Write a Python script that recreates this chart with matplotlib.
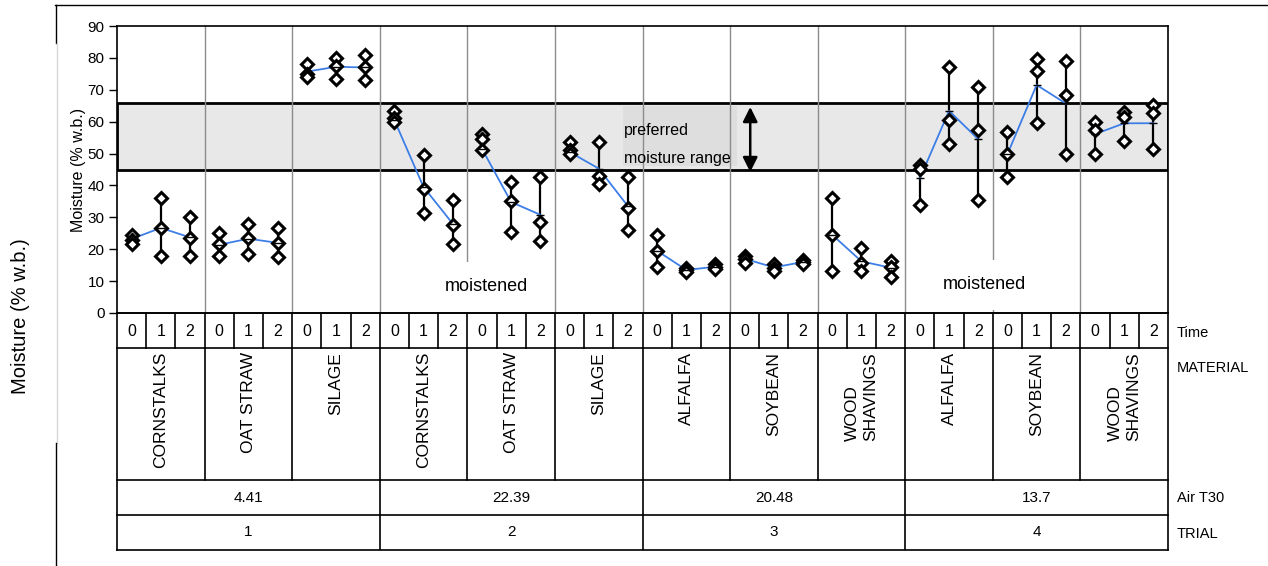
"""Variability chart: moisture content by trial, material and storage time."""

import matplotlib

matplotlib.use("Agg")
import matplotlib.pyplot as plt
from matplotlib.lines import Line2D
from matplotlib.patches import Rectangle

plt.rcParams["font.family"] = ["Liberation Sans", "DejaVu Sans"]

# ---- data ----------------------------------------------------------------
TIMES = ["0", "1", "2"]
MATERIALS = [
    "CORNSTALKS", "OAT STRAW", "SILAGE",
    "CORNSTALKS", "OAT STRAW", "SILAGE",
    "ALFALFA", "SOYBEAN", "WOOD\nSHAVINGS",
    "ALFALFA", "SOYBEAN", "WOOD\nSHAVINGS",
]
AIR_T30 = ["4.41", "22.39", "20.48", "13.7"]
TRIALS = ["1", "2", "3", "4"]

# three replicate readings per cell (high / middle / low), 36 cells
rep_high = [
    24.5, 36.0, 30.0, 25.0, 28.0, 26.5, 78.0, 80.0, 81.0,
    63.5, 49.5, 35.5, 56.0, 41.0, 42.5, 53.5, 53.5, 42.5,
    24.5, 14.0, 15.3, 18.0, 15.3, 16.6, 36.0, 20.5, 16.3,
    46.5, 77.0, 71.0, 56.8, 79.5, 79.0, 60.0, 63.0, 65.2,
]
rep_mid = [
    23.0, 26.5, 23.5, 21.5, 23.5, 22.0, 75.0, 77.5, 77.0,
    61.0, 39.0, 27.5, 54.5, 35.0, 28.5, 51.0, 43.0, 33.0,
    19.5, 13.5, 14.5, 17.0, 14.2, 16.0, 24.5, 15.8, 14.3,
    45.3, 60.5, 57.4, 49.8, 76.0, 68.5, 57.4, 61.5, 62.6,
]
rep_low = [
    21.5, 18.0, 18.0, 18.0, 18.5, 17.5, 74.0, 73.5, 73.0,
    60.0, 31.5, 21.5, 51.0, 25.5, 22.5, 50.0, 40.5, 26.0,
    14.5, 13.0, 13.7, 15.8, 13.3, 15.3, 13.3, 13.3, 11.4,
    34.0, 53.0, 35.4, 42.7, 59.5, 50.0, 49.8, 54.0, 51.3,
]
cell_mean = [
    23.2, 26.7, 23.7, 21.4, 23.3, 22.0, 75.7, 77.2, 77.0,
    60.5, 39.5, 28.0, 51.5, 34.8, 30.8, 50.5, 45.3, 33.5,
    19.5, 13.5, 14.5, 17.0, 14.3, 16.0, 24.5, 16.2, 14.2,
    42.2, 63.4, 54.5, 49.8, 71.5, 65.7, 56.1, 59.5, 59.5,
]

PREFERRED_LOW, PREFERRED_HIGH = 45, 66

# ---- layout (pixel geometry of the 1268x566 reference) --------------------
W, H = 1268, 566
PLOT_L, PLOT_R, PLOT_T, PLOT_B = 117, 1168, 26, 313
TABLE_B = 550
ROW_EDGES = [313, 348, 480, 515, 550]
LINE_BLUE = "#3d7ee6"
GRID_GREY = "#8c8c8c"

n_cells = len(cell_mean)


def fx(px):
    return px / W


def fy(py):
    return 1 - py / H


fig = plt.figure(figsize=(W / 100, H / 100), dpi=100)

ax = fig.add_axes([fx(PLOT_L), fy(PLOT_B), fx(PLOT_R) - fx(PLOT_L), fy(PLOT_T) - fy(PLOT_B)])
ax.set_xlim(0, n_cells)
ax.set_ylim(0, 90)
ax.set_yticks(range(0, 91, 10))
ax.set_xticks([])
ax.tick_params(axis="y", direction="out", length=6, width=1, pad=3, labelsize=11)
for spine in ax.spines.values():
    spine.set_linewidth(1.2)
ax.set_ylabel("Moisture (% w.b.)", fontsize=11.5, labelpad=1)

# preferred range band
ax.add_patch(Rectangle((0, PREFERRED_LOW), n_cells, PREFERRED_HIGH - PREFERRED_LOW,
                       facecolor="#e8e8e8", edgecolor="black", linewidth=2, zorder=0.5))

# material separators
for b in range(3, n_cells, 3):
    ax.axvline(b, color=GRID_GREY, linewidth=1, zorder=1)

# replicate readings, range bars and cell means
for g in range(n_cells // 3):
    xs = [3 * g + t + 0.5 for t in range(3)]
    ax.plot(xs, cell_mean[3 * g:3 * g + 3], color=LINE_BLUE, linewidth=1.3, zorder=3)
    for i in range(3 * g, 3 * g + 3):
        x = i + 0.5
        ax.plot([x, x], [rep_low[i], rep_high[i]], color="black", linewidth=1.6, zorder=2.5)
        ax.plot([x] * 3, [rep_high[i], rep_mid[i], rep_low[i]], linestyle="none",
                marker="D", markersize=6.5, markerfacecolor="white",
                markeredgecolor="black", markeredgewidth=2.2, zorder=4)
        ax.plot([x], [cell_mean[i]], marker="_", markersize=6, color="black",
                markeredgewidth=1, zorder=4)

# annotations
ax.add_patch(Rectangle((17.33, 46.1), 3.9, 18.8, facecolor="#dedede",
                       edgecolor="none", zorder=0.8))
ax.text(17.37, 57.1, "preferred", fontsize=11.5, va="center", ha="left", zorder=2)
ax.text(17.37, 48.5, "moisture range", fontsize=11.5, va="center", ha="left", zorder=2)
ax.annotate("", xy=(21.69, 64.6), xytext=(21.69, 44.2),
            arrowprops=dict(arrowstyle="<|-|>", color="black", lw=1.8,
                            mutation_scale=22, shrinkA=0, shrinkB=0), zorder=3)
for mx, my in [(12.64, 8.2), (29.7, 8.8)]:
    ax.text(mx, my, "moistened", fontsize=13, ha="center", va="center", zorder=1.5,
            bbox=dict(boxstyle="square,pad=0.9", facecolor="white", edgecolor="none"))

# ---- category table below the plot -----------------------------------------
tab = fig.add_axes([fx(PLOT_L), fy(TABLE_B), fx(PLOT_R) - fx(PLOT_L), fy(PLOT_B) - fy(TABLE_B)])
tab.set_xlim(0, n_cells)
tab.set_ylim(TABLE_B, PLOT_B)
tab.axis("off")

lw = 1.2
for y in ROW_EDGES:
    tab.plot([0, n_cells], [y, y], color="black", linewidth=lw, clip_on=False)
for x in (0, n_cells):
    tab.plot([x, x], [ROW_EDGES[0], ROW_EDGES[-1]], color="black", linewidth=lw, clip_on=False)
for b in range(1, n_cells):
    tab.plot([b, b], [ROW_EDGES[0], ROW_EDGES[1]], color="black", linewidth=lw)
for b in range(3, n_cells, 3):
    tab.plot([b, b], [ROW_EDGES[1], ROW_EDGES[2]], color="black", linewidth=lw)
for b in range(9, n_cells, 9):
    tab.plot([b, b], [ROW_EDGES[2], ROW_EDGES[4]], color="black", linewidth=lw)

for i in range(n_cells):
    tab.text(i + 0.5, 331, TIMES[i % 3], ha="center", va="center", fontsize=11.5)
for g, name in enumerate(MATERIALS):
    tab.text(3 * g + 1.5, 352, name, rotation=90, ha="center", va="top",
             fontsize=12.5, multialignment="left", linespacing=1.25)
for k in range(len(TRIALS)):
    tab.text(9 * k + 4.5, 497.5, AIR_T30[k], ha="center", va="center", fontsize=11)
    tab.text(9 * k + 4.5, 532.5, TRIALS[k], ha="center", va="center", fontsize=11)

for label, py in [("Time", 333), ("MATERIAL", 368), ("Air T30", 498), ("TRIAL", 534)]:
    fig.text(fx(1177), fy(py), label, ha="left", va="center", fontsize=10.5)

# ---- outer frame and outer axis title --------------------------------------
fig.add_artist(Line2D([fx(55), 1], [fy(5), fy(5)], color="black", linewidth=1))
fig.add_artist(Line2D([fx(56), fx(56)], [fy(5), fy(43)], color="black", linewidth=1))
fig.add_artist(Line2D([fx(57), fx(57)], [fy(43), fy(443)], color="#d8d8d8", linewidth=1))
fig.add_artist(Line2D([fx(56), fx(56)], [fy(443), 0], color="black", linewidth=1))
fig.text(fx(21), fy(316), "Moisture (% w.b.)", rotation=90, ha="center", va="center",
         fontsize=14.5)

fig.savefig("out.png", dpi=100, facecolor="white")
